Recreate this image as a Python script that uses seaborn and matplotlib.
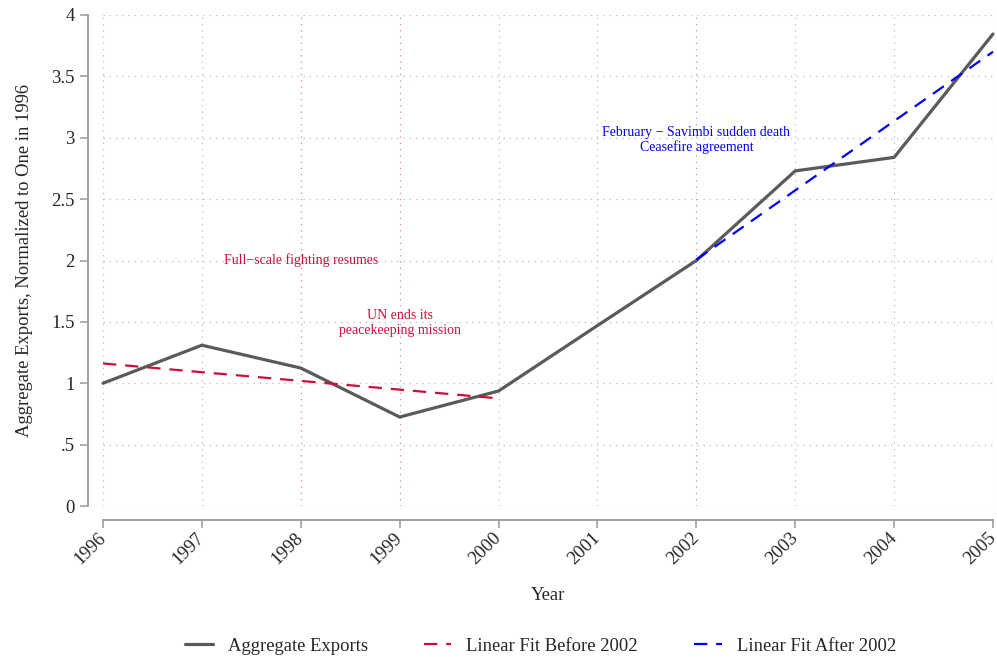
import numpy as np
import pandas as pd
import matplotlib
matplotlib.use("Agg")
import matplotlib.pyplot as plt
import seaborn as sns

years = [1996, 1997, 1998, 1999, 2000, 2001, 2002, 2003, 2004, 2005]
exports = [1.00, 1.31, 1.124, 0.725, 0.937, 1.47, 2.00, 2.73, 2.84, 3.845]
event_years = [1998, 1999, 2002]
ytick_vals = [0, 0.5, 1, 1.5, 2, 2.5, 3, 3.5, 4]
ytick_labels = ["0", ".5", "1", "1.5", "2", "2.5", "3", "3.5", "4"]

CRIMSON = "#C8103A"
BLUE = "#0000FF"
GRAY = "#5A5A5A"


def main():
    sns.set_theme(style="white")
    plt.rcParams["font.family"] = ["Liberation Serif", "DejaVu Serif"]
    plt.rcParams["axes.unicode_minus"] = True

    df = pd.DataFrame({"year": years, "exports": exports})
    before = df[df.year <= 2000]
    after = df[df.year >= 2002]

    # Linear fits on each period
    b = np.polyfit(before.year, before.exports, 1)
    a = np.polyfit(after.year, after.exports, 1)
    fit_before = pd.DataFrame({"year": before.year, "fit": np.polyval(b, before.year)})
    fit_after = pd.DataFrame({"year": after.year, "fit": np.polyval(a, after.year)})

    fig = plt.figure(figsize=(9.97, 6.57), dpi=100)
    ax = fig.add_axes([0.1033, 0.2298, 0.8927, 0.7474])

    # grid
    for yv in ytick_vals:
        ax.axhline(yv, color="#BBBBBB", lw=0.9, ls=(0, (1, 4)), zorder=0)
    for x in years:
        c = "#D08CA0" if x in event_years else "#BBBBBB"
        ax.axvline(x, color=c, lw=0.9, ls=(0, (1, 4)), zorder=0)

    sns.lineplot(data=df, x="year", y="exports", color=GRAY, lw=2.3,
                 ax=ax, label="Aggregate Exports", clip_on=False, zorder=3)
    sns.lineplot(data=fit_before, x="year", y="fit", color=CRIMSON, lw=1.6,
                 ax=ax, label="Linear Fit Before 2002", zorder=4)
    sns.lineplot(data=fit_after, x="year", y="fit", color=BLUE, lw=1.6,
                 ax=ax, label="Linear Fit After 2002", clip_on=False, zorder=4)
    ax.lines[-2].set_dashes([6, 4])
    ax.lines[-1].set_dashes([6, 4])

    ax.set_xlim(1996, 2005)
    ax.set_ylim(0, 4)
    ax.set_xticks(years)
    ax.set_yticks(ytick_vals)

    sns.despine(ax=ax, offset={"left": 11, "bottom": 10}, trim=True)
    for s in ["left", "bottom"]:
        ax.spines[s].set_color("#999999")
        ax.spines[s].set_linewidth(1.3)

    # labels after despine (trim resets them)
    ax.set_xticks(years)
    ax.set_xticklabels([str(y) for y in years], rotation=45, ha="right",
                       va="center", rotation_mode="anchor", fontsize=13.4)
    ax.set_yticks(ytick_vals)
    ax.set_yticklabels(ytick_labels, fontsize=13.4)
    ax.tick_params(axis="x", pad=5)
    ax.tick_params(axis="both", length=6, width=1.1, color="#999999",
                   left=True, bottom=True)
    ax.set_xlabel("Year", fontsize=13.4, labelpad=14)
    ax.set_ylabel("Aggregate Exports, Normalized to One in 1996", fontsize=13.4, labelpad=13)

    # event annotations
    ax.text(1998, 2.0, "Full\u2212scale fighting resumes", color=CRIMSON,
            fontsize=10, ha="center", va="center")
    ax.text(1999, 1.49, "UN ends its\npeacekeeping mission", color=CRIMSON,
            fontsize=10, ha="center", va="center", linespacing=1.15)
    ax.text(2002, 2.98, "February \u2212 Savimbi sudden death\nCeasefire agreement",
            color=BLUE, fontsize=10, ha="center", va="center", linespacing=1.15)

    handles, labels = ax.get_legend_handles_labels()
    ax.get_legend().remove()
    fig.legend(handles, labels, loc="lower center", bbox_to_anchor=(0.542, -0.022),
               ncol=3, frameon=False, fontsize=13.4, handlelength=1.5,
               columnspacing=3.0)

    fig.savefig("out.png", dpi=100)


if __name__ == "__main__":
    main()
